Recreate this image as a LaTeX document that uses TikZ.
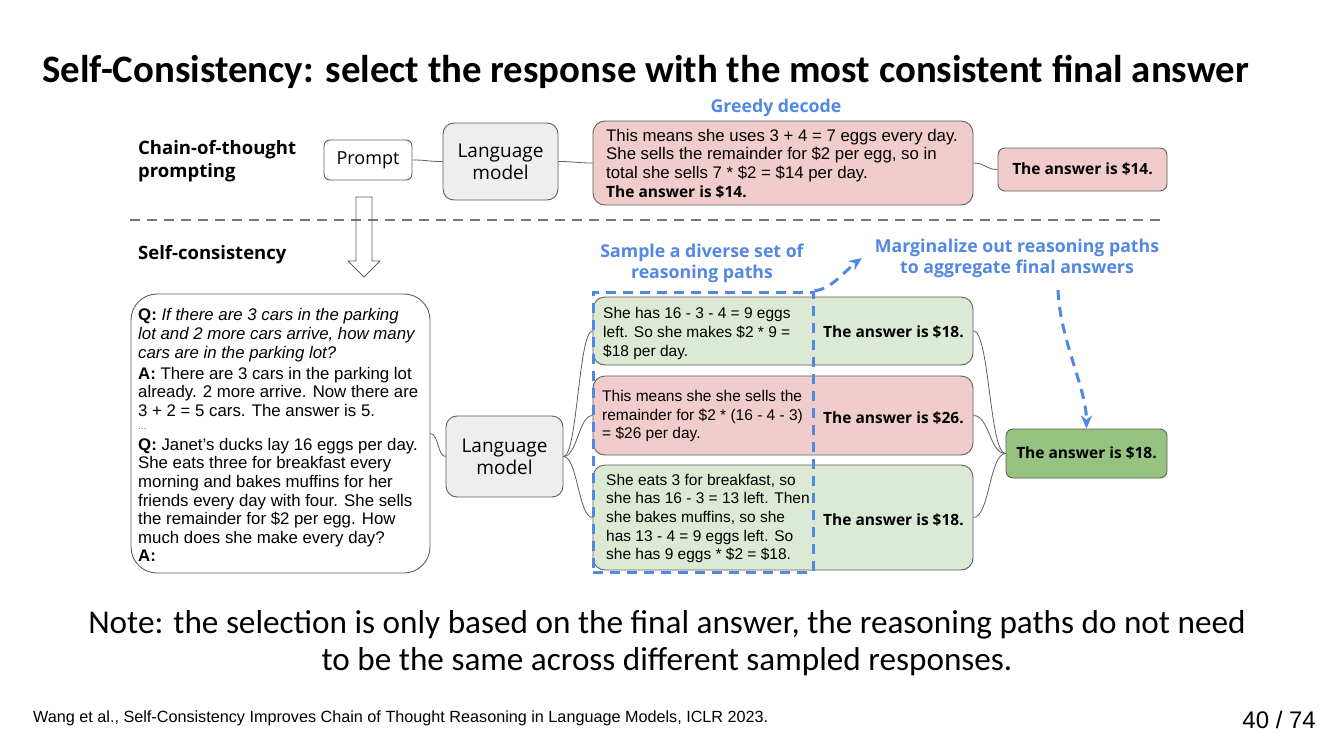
\documentclass[tikz,border=0pt]{standalone}
\usepackage{fontspec}
\setmainfont{Liberation Sans}
\newfontfamily\titlefont{Carlito}
\newfontfamily\labelfont{Open Sans}
\usetikzlibrary{arrows.meta}

\definecolor{pinkfill}{RGB}{240,205,204}
\definecolor{greenfill}{RGB}{220,234,213}
\definecolor{finalgreen}{RGB}{150,196,128}
\definecolor{lmgray}{RGB}{238,238,238}
\definecolor{edge}{RGB}{95,95,95}
\definecolor{accent}{RGB}{82,136,228}

\begin{document}
\begin{tikzpicture}[x=1pt,y=-1pt,
  box/.style={draw=edge, line width=0.9pt, rounded corners=7pt, inner sep=0pt},
  lmbox/.style={box, fill=lmgray, rounded corners=11pt, align=center,
    font=\labelfont\fontsize{19}{22}\selectfont},
  body/.style={font=\fontsize{16.8}{18.6}\selectfont, align=left, inner sep=0pt, anchor=west},
  pathtext/.style={body, font=\fontsize{15.5}{18.7}\selectfont},
  ans/.style={font=\labelfont\bfseries\fontsize{15.5}{18}\selectfont, inner sep=0pt},
  rowlabel/.style={font=\labelfont\bfseries\fontsize{18.5}{22.5}\selectfont, align=left, inner sep=0pt, anchor=west},
  link/.style={draw=edge, line width=0.8pt},
  bluelabel/.style={text=accent, font=\labelfont\bfseries\fontsize{17.7}{21.5}\selectfont, align=center, inner sep=0pt},
  bluedash/.style={draw=accent, line width=3pt, dash pattern=on 10pt off 7pt}]

\useasboundingbox (0,0) rectangle (1334,750);
\fill[white] (0,0) rectangle (1334,750);

% heading
\node[anchor=west, inner sep=0pt, font=\titlefont\bfseries\fontsize{38.8}{44}\selectfont] (title) at (42,72)
  {Self-Consistency: select the response with the most consistent final answer};

% ---------- chain-of-thought row ----------
\node[rowlabel] (cotlabel) at (138,161) {Chain-of-thought\\prompting};
\node[box, minimum width=88pt, minimum height=40pt, rounded corners=6pt,
      font=\labelfont\fontsize{18}{22}\selectfont] (prompt) at (368,160) {Prompt};
\node[lmbox, minimum width=115pt, minimum height=77pt] (lmtop) at (500.5,161.5) {Language\\model};
\node[box, fill=pinkfill, minimum width=380pt, minimum height=84pt, rounded corners=12pt] (greedy) at (783,163) {};
\node[body] (greedytext) at (606,163.5)
  {This means she uses 3 + 4 = 7 eggs every day.\\
   She sells the remainder for \$2 per egg, so in\\
   total she sells 7 * \$2 = \$14 per day.\\
   {\labelfont\bfseries\fontsize{15.5}{18.6}\selectfont The answer is \$14.}};
\node[bluelabel] (greedylabel) at (776,108) {Greedy decode};
\node[box, fill=pinkfill, minimum width=169pt, minimum height=43pt] (ans14) at (1082.5,169.5) {};
\node[ans] (ans14text) at (ans14) {The answer is \$14.};

\draw[link] (prompt.east) .. controls +(16,0) and +(-16,0) .. (lmtop.west);
\draw[link] (lmtop.east) .. controls +(16,0) and +(-16,0) .. (greedy.west);
\draw[link] (greedy.east) .. controls +(12,0) and +(-12,0) .. (ans14.west);

% separator between the two rows
\coordinate (sepL) at (130,220);
\coordinate (sepR) at (1165,220);
\draw[draw=edge!85, line width=2pt, dash pattern=on 10pt off 7pt] (sepL) -- (sepR);

% hollow arrow from the prompt down to the self-consistency prompt
\draw[draw=edge, line width=0.9pt, line join=miter]
  (356,197) -- (372,197) -- (372,261) -- (380,261) -- (364,277) -- (348,261) -- (356,261) -- cycle;

% ---------- self-consistency row ----------
\node[rowlabel] (sclabel) at (138,255) {Self-consistency};

\node[box, minimum width=299pt, minimum height=279pt, rounded corners=26pt] (qbox) at (280.5,433.5) {};
\node[body, anchor=north west] (qtext) at (138,308.5)
  {\textbf{Q:} \textit{If there are 3 cars in the parking}\\
   \textit{lot and 2 more cars arrive, how many}\\
   \textit{cars are in the parking lot?}\\[2.4pt]
   \textbf{A:} There are 3 cars in the parking lot\\
   already. 2 more arrive. Now there are\\
   3 + 2 = 5 cars. The answer is 5.\\
   {\fontsize{10}{10}\selectfont\color{edge}\raisebox{5pt}{...}}\\[-3.2pt]
   \textbf{Q:} Janet’s ducks lay 16 eggs per day.\\
   She eats three for breakfast every\\
   morning and bakes muffins for her\\
   friends every day with four. She sells\\
   the remainder for \$2 per egg. How\\
   much does she make every day?\\
   \textbf{A:}};

\node[lmbox, minimum width=117pt, minimum height=81pt] (lmbot) at (504.5,456.5) {Language\\model};

\node[box, fill=greenfill, minimum width=380pt, minimum height=68pt, rounded corners=12pt] (b1) at (783,331) {};
\node[box, fill=pinkfill, minimum width=380pt, minimum height=79pt, rounded corners=12pt] (b2) at (783,415.5) {};
\node[box, fill=greenfill, minimum width=380pt, minimum height=105pt, rounded corners=12pt] (b3) at (783,517.5) {};

\node[pathtext] (b1text) at (603,333.5)
  {She has 16 - 3 - 4 = 9 eggs\\left. So she makes \$2 * 9 =\\\$18 per day.};
\node[pathtext] (b2text) at (602,416)
  {This means she she sells the\\remainder for \$2 * (16 - 4 - 3)\\= \$26 per day.};
\node[pathtext] (b3text) at (606,518.5)
  {She eats 3 for breakfast, so\\she has 16 - 3 = 13 left. Then\\she bakes muffins, so she\\has 13 - 4 = 9 eggs left. So\\she has 9 eggs * \$2 = \$18.};

\node[ans, anchor=west] (a1) at (823,332) {The answer is \$18.};
\node[ans, anchor=west] (a2) at (823,418) {The answer is \$26.};
\node[ans, anchor=west] (a3) at (823,520) {The answer is \$18.};

\node[box, fill=finalgreen, minimum width=161pt, minimum height=49pt] (final) at (1086.5,453.5) {};
\node[ans] (finaltext) at (final) {The answer is \$18.};

\draw[link] (qbox.east) .. controls +(8,0) and +(-8,0) .. (lmbot.west);
\draw[link] (lmbot.east) .. controls +(14,0) and +(-14,0) .. (b1.west);
\draw[link] (lmbot.east) .. controls +(14,0) and +(-14,0) .. (b2.west);
\draw[link] (lmbot.east) .. controls +(14,0) and +(-14,0) .. (b3.west);
\draw[link] (b1.east) .. controls +(16,0) and +(-16,0) .. (final.west);
\draw[link] (b2.east) .. controls +(16,0) and +(-16,0) .. (final.west);
\draw[link] (b3.east) .. controls +(16,0) and +(-16,0) .. (final.west);

% sampled reasoning paths, framed and marginalized
\node[bluedash, minimum width=220pt, minimum height=280pt, inner sep=0pt] (paths) at (703,432) {};
\node[bluelabel] (samplelabel) at (702,263.5) {Sample a diverse set of\\reasoning paths};
\node[bluelabel] (marglabel) at (1017,258.5) {Marginalize out reasoning paths\\to aggregate final answers};
\coordinate (margtip) at (862,258);
\draw[bluedash, -{Stealth[length=13pt,width=11pt]}]
  (paths.north east) .. controls +(16,0) and +(-14,10) .. (margtip);
\coordinate (margstart) at (1058,290);
\draw[bluedash, -{Stealth[length=13pt,width=11pt]}]
  (margstart) .. controls +(2,50) and +(0,-40) .. (final.north);

% note and footer
\node[align=center, inner sep=0pt, font=\titlefont\fontsize{33.2}{37}\selectfont] (note) at (667,643.5)
  {Note: the selection is only based on the final answer, the reasoning paths do not need\\
   to be the same across different sampled responses.};
\node[anchor=west, inner sep=0pt, font=\fontsize{16.2}{18}\selectfont] (cite) at (33,718)
  {Wang et al., Self-Consistency Improves Chain of Thought Reasoning in Language Models, ICLR 2023.};
\node[anchor=east, inner sep=0pt, font=\fontsize{24}{28}\selectfont] (page) at (1316,720) {40 / 74};
\end{tikzpicture}
\end{document}
